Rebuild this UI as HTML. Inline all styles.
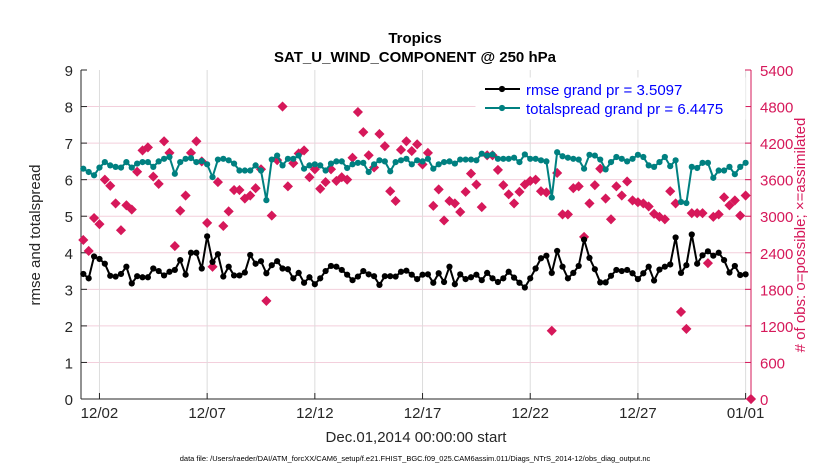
<!DOCTYPE html>
<html><head><meta charset="utf-8"><style>
body{margin:0;background:#fff;}
svg{font-family:"Liberation Sans",sans-serif;}
</style></head><body>
<svg id="chart" width="830" height="470"></svg>
<script>
const rmse=[3.42,3.3,3.9,3.83,3.7,3.37,3.35,3.42,3.62,3.16,3.36,3.33,3.33,3.57,3.5,3.38,3.48,3.53,3.8,3.4,4.0,4.0,3.57,4.45,3.75,3.96,3.35,3.62,3.38,3.38,3.46,3.94,3.7,3.77,3.44,3.66,3.77,3.57,3.55,3.3,3.45,3.18,3.33,
3.14,3.3,3.5,3.64,3.62,3.53,3.4,3.25,3.35,3.5,3.41,3.36,3.12,3.36,3.36,3.35,3.48,3.51,3.4,3.28,3.4,3.41,3.18,3.44,3.2,3.62,3.14,3.41,3.28,3.33,3.4,3.25,3.45,3.3,3.2,3.3,3.48,3.32,3.18,3.05,3.3,
3.57,3.85,3.92,3.45,4.05,3.62,3.3,3.45,3.64,4.36,3.86,3.55,3.19,3.19,3.37,3.53,3.5,3.53,3.44,3.28,3.44,3.62,3.24,3.54,3.62,3.68,4.42,3.45,3.66,4.5,3.7,3.93,4.04,3.92,4.0,3.8,3.46,3.64,3.39,3.41];
const spread=[6.3,6.21,6.12,6.33,6.48,6.39,6.35,6.33,6.48,6.33,6.44,6.48,6.48,6.35,6.5,6.57,6.62,6.16,6.48,6.57,6.59,6.48,6.51,6.42,6.07,6.55,6.57,6.53,6.44,6.25,6.25,6.25,6.39,6.25,5.44,6.55,6.66,6.39,6.57,6.57,6.66,6.3,6.39,
6.42,6.39,6.25,6.44,6.5,6.5,6.32,6.42,6.46,6.46,6.21,6.42,6.53,6.5,6.23,6.48,6.53,6.57,6.42,6.53,6.5,6.57,6.3,6.42,6.48,6.5,6.44,6.55,6.55,6.55,6.53,6.71,6.66,6.69,6.57,6.57,6.57,6.6,6.48,6.69,6.57,
6.57,6.53,6.5,5.51,6.75,6.64,6.6,6.57,6.55,6.3,6.68,6.66,6.55,6.28,6.48,6.62,6.57,6.5,6.57,6.68,6.62,6.39,6.35,6.48,6.62,6.37,6.53,5.39,5.36,6.35,6.32,6.46,6.46,6.05,6.25,6.25,6.35,6.15,6.35,6.46];
const obs=[2610,2430,2970,2870,3600,3500,3210,2770,3180,3110,3730,4080,4130,3650,3530,4230,4040,2510,3090,3340,4040,4230,3900,2890,2170,3560,2840,3080,3430,3430,3290,3340,3460,3770,1610,3010,3920,4800,3490,3870,4030,4080,3640,
3770,3450,3560,3770,3580,3640,3600,3960,4710,4380,4000,3800,4350,4150,3410,3250,4090,4230,4070,4180,3850,4040,3170,3440,2930,3250,3210,3070,3400,3700,3520,3150,4000,4000,3760,3510,3360,3210,3400,3520,3580,
3600,3410,3390,1120,3710,3030,3030,3460,3490,2660,3210,3510,3780,3290,2950,3490,3340,3570,3260,3230,3210,3160,3040,2990,2950,3410,3210,1430,1150,3050,3050,3050,2230,2990,3030,3310,3180,3260,3010,3340,0];
const xTickLabels=["12/02","12/07","12/12","12/17","12/22","12/27","01/01"];
const xTickDays=[1,6,11,16,21,26,31];
const yLeftTicks=[0,1,2,3,4,5,6,7,8,9];
const yRightTicks=[0,600,1200,1800,2400,3000,3600,4200,4800,5400];

const NS="http://www.w3.org/2000/svg";
const svg=document.getElementById('chart');
const L=81,R=751,T=70,B=399;
const PINK="#d6185a";
function xi(i){return 83.3+i*(751-83.3)/124;}
function xd(d){return 83.3+(d-0.25)*4*(751-83.3)/124;}
function yl(v){return B-(v/9)*(B-T);}
function yr(v){return B-(v/5400)*(B-T);}
function mk(tag,attrs,parent){const e=document.createElementNS(NS,tag);for(const k in attrs)e.setAttribute(k,attrs[k]);(parent||svg).appendChild(e);return e;}
function txt(s,x,y,attrs){const e=mk('text',Object.assign({x:x,y:y},attrs));e.textContent=s;return e;}

for(const v of yLeftTicks){if(v===0||v===9)continue;const g=mk('line',{x1:L,x2:R,y1:yl(v),y2:yl(v),stroke:"#f3cfdc","stroke-width":1});

}
for(const d of xTickDays){const g=mk('line',{x1:xd(d),x2:xd(d),y1:T,y2:B,stroke:"#dcdcdc","stroke-width":1});

}
const ax=mk('g',{});


mk('line',{x1:L,x2:R,y1:B,y2:B,stroke:"#262626"},ax);
mk('line',{x1:L,x2:L,y1:T,y2:B,stroke:"#262626"},ax);
mk('line',{x1:R,x2:R,y1:T,y2:B,stroke:PINK},ax);
for(let i=0;i<yLeftTicks.length;i++){const y=yl(yLeftTicks[i]);
mk('line',{x1:L,x2:L+6,y1:y,y2:y,stroke:"#262626"},ax);
const t=txt(String(yLeftTicks[i]),L-8,y+6,{"text-anchor":"end","font-size":"15",fill:"#262626"});


const y2=yr(yRightTicks[i]);
mk('line',{x1:R-6,x2:R,y1:y2,y2:y2,stroke:PINK},ax);
const t2=txt(String(yRightTicks[i]),R+9,y2+6,{"font-size":"15",fill:PINK});

}
for(let i=0;i<xTickDays.length;i++){const x=xd(xTickDays[i]);
mk('line',{x1:x,x2:x,y1:B,y2:B-6,stroke:"#262626"},ax);
const t=txt(xTickLabels[i],x,418,{"text-anchor":"middle","font-size":"15",fill:"#262626"});

}

for(let i=0;i<obs.length;i++){const x=xi(i),y=yr(obs[i]);
const m=mk('path',{d:`M${x} ${y-4.5}L${x+4.5} ${y}L${x} ${y+4.5}L${x-4.5} ${y}Z`,fill:PINK,stroke:PINK,"stroke-width":0.8});

}
function series(arr,color,name,r){
const g=mk('g',{});


mk('polyline',{points:arr.map((v,i)=>xi(i)+","+yl(v)).join(" "),fill:"none",stroke:color,"stroke-width":2},g);
for(let i=0;i<arr.length;i++){const c=mk('circle',{cx:xi(i),cy:yl(arr[i]),r:r,fill:color},g);

}
}
series(spread,"#008080","totalspread-series",3.1);
series(rmse,"#000000","rmse-series",3.1);

const lg=mk('g',{});


mk('rect',{x:476,y:78,width:269,height:41,fill:"#fff",stroke:"#fff"},lg);
mk('line',{x1:485,x2:520,y1:89,y2:89,stroke:"#000","stroke-width":2},lg);
mk('circle',{cx:502,cy:89,r:3.1,fill:"#000"},lg);
mk('line',{x1:485,x2:520,y1:108,y2:108,stroke:"#008080","stroke-width":2},lg);
mk('circle',{cx:502,cy:108,r:3.1,fill:"#008080"},lg);
const l1=txt("rmse grand pr = 3.5097",526,95,{"font-size":"15",fill:"#0000ff"});


lg.appendChild(l1);
const l2=txt("totalspread grand pr = 6.4475",526,114,{"font-size":"15",fill:"#0000ff"});


lg.appendChild(l2);

let t;
t=txt("Tropics",415,43,{"text-anchor":"middle","font-size":"15","font-weight":"bold",fill:"#000"});


t=txt("SAT_U_WIND_COMPONENT @ 250 hPa",415,62,{"text-anchor":"middle","font-size":"15","font-weight":"bold",fill:"#000"});


t=txt("Dec.01,2014 00:00:00 start",416,442,{"text-anchor":"middle","font-size":"15",fill:"#262626"});


t=txt("rmse and totalspread",0,0,{"text-anchor":"middle","font-size":"15",fill:"#262626",transform:"translate(40,235) rotate(-90)"});


t=txt("# of obs: o=possible; \u00D7=assimilated",0,0,{"text-anchor":"middle","font-size":"15",fill:PINK,transform:"translate(805,235) rotate(-90)"});


t=txt("data file: /Users/raeder/DAI/ATM_forcXX/CAM6_setup/f.e21.FHIST_BGC.f09_025.CAM6assim.011/Diags_NTrS_2014-12/obs_diag_output.nc",415,461,{"text-anchor":"middle","font-size":"7.5",fill:"#000"});


</script>
</body></html>
